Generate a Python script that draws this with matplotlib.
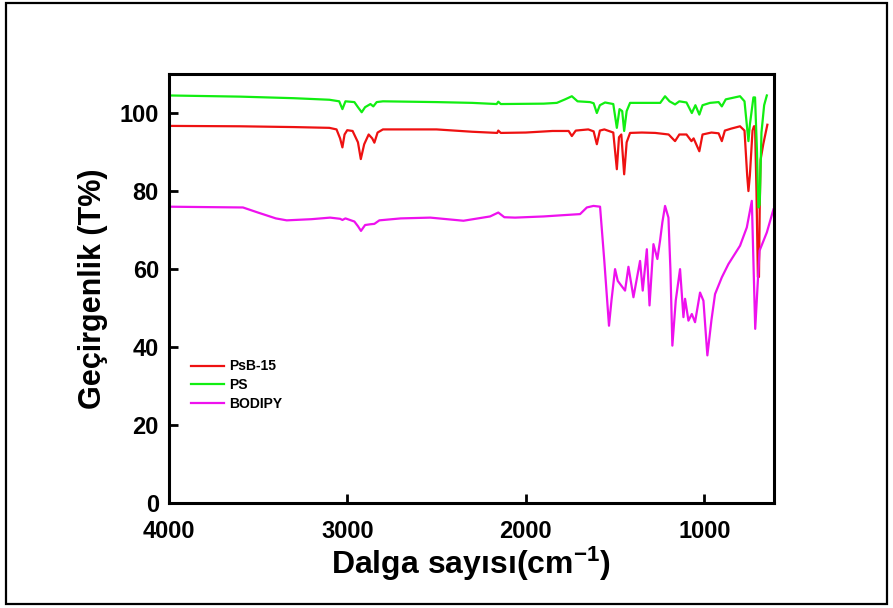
import matplotlib
matplotlib.use("Agg")
import matplotlib.pyplot as plt
from matplotlib.patches import Rectangle

plt.rcParams['font.family'] = ['Liberation Sans', 'DejaVu Sans']
plt.rcParams['font.weight'] = 'bold'
plt.rcParams['mathtext.fontset'] = 'custom'
plt.rcParams['mathtext.rm'] = 'Liberation Sans:bold'
plt.rcParams['mathtext.bf'] = 'Liberation Sans:bold'
plt.rcParams['mathtext.default'] = 'bf'

# PsB-15 (red)
wn_psb = [4000, 3600, 3300, 3100, 3060, 3040, 3027, 3015, 3000, 2970, 2940, 2924, 2905,
          2880, 2860, 2848, 2830, 2800, 2500, 2300, 2160, 2154, 2140, 2000, 1850, 1760,
          1742, 1720, 1650, 1620, 1602, 1585, 1560, 1510, 1490, 1478, 1465, 1449, 1435,
          1416, 1350, 1275, 1200, 1164, 1140, 1100, 1072, 1060, 1028, 1010, 960, 920,
          902, 885, 850, 800, 775, 760, 753, 745, 730, 722, 716, 708, 700, 694, 690,
          685, 670, 647]
t_psb = [96.7, 96.6, 96.4, 96.2, 95.8, 93.5, 91.2, 94.5, 95.6, 95.4, 92.5, 88.2, 92.0,
         94.5, 93.5, 92.4, 95.0, 95.8, 95.8, 95.2, 94.9, 95.5, 94.9, 95.0, 95.4, 95.4,
         94.1, 95.5, 95.8, 95.3, 92.0, 95.5, 95.8, 95.0, 85.6, 93.8, 94.5, 84.3, 92.5,
         94.9, 95.0, 94.9, 94.5, 92.8, 94.5, 94.5, 92.8, 93.5, 90.2, 94.5, 95.0, 94.8,
         92.8, 95.5, 96.0, 96.6, 95.5, 84.0, 80.0, 84.0, 95.5, 96.6, 96.6, 80.0, 58.0,
         58.0, 75.0, 88.0, 92.0, 97.0]

# PS (green)
wn_ps = [4000, 3600, 3300, 3100, 3045, 3027, 3010, 2960, 2940, 2919, 2900, 2870, 2854,
         2835, 2800, 2500, 2300, 2163, 2154, 2140, 1900, 1826, 1780, 1742, 1710, 1640,
         1620, 1602, 1585, 1556, 1510, 1490, 1475, 1460, 1449, 1435, 1416, 1300, 1247,
         1220, 1195, 1164, 1140, 1100, 1070, 1050, 1028, 1010, 968, 920, 902, 880, 800,
         775, 760, 753, 745, 725, 716, 705, 697, 690, 680, 665, 650]
t_ps = [104.5, 104.2, 103.8, 103.4, 103.0, 101.0, 103.0, 102.8, 101.5, 100.2, 101.5,
        102.3, 101.7, 102.8, 103.0, 102.8, 102.6, 102.3, 102.9, 102.3, 102.4, 102.6,
        103.5, 104.3, 103.0, 102.8, 102.5, 100.0, 102.0, 102.7, 102.3, 96.2, 101.0,
        100.5, 95.4, 100.5, 102.6, 102.6, 102.6, 104.3, 103.0, 102.2, 103.0, 102.7,
        100.0, 102.0, 99.6, 102.0, 102.6, 102.8, 101.7, 103.5, 104.3, 103.0, 96.0,
        92.8, 97.0, 104.0, 104.0, 90.0, 75.8, 76.5, 95.0, 102.0, 104.5]

# BODIPY (magenta)
wn_bod = [4000, 3800, 3584, 3500, 3400, 3339, 3200, 3096, 3040, 3027, 3010, 2960, 2940,
          2923, 2900, 2870, 2848, 2820, 2700, 2535, 2349, 2200, 2154, 2120, 2060, 1900,
          1800, 1696, 1658, 1621, 1584, 1560, 1534, 1520, 1500, 1485, 1472, 1444, 1425,
          1397, 1360, 1345, 1322, 1307, 1285, 1263, 1248, 1235, 1220, 1201, 1190, 1179,
          1160, 1136, 1117, 1108, 1089, 1070, 1052, 1024, 1005, 983, 960, 940, 902, 865,
          800, 762, 734, 715, 691, 650, 613]
t_bod = [76.0, 75.9, 75.8, 74.5, 73.0, 72.5, 72.8, 73.2, 72.9, 72.6, 73.0, 72.2, 71.0,
         69.8, 71.3, 71.5, 71.6, 72.5, 73.0, 73.2, 72.4, 73.5, 74.5, 73.3, 73.2, 73.5,
         73.8, 74.1, 75.8, 76.2, 76.0, 62.0, 45.5, 52.0, 60.0, 57.0, 56.2, 54.5, 60.6,
         52.8, 62.1, 54.5, 65.1, 50.7, 66.4, 62.6, 67.3, 72.0, 76.2, 73.2, 60.0, 40.4,
         52.0, 60.0, 47.7, 52.4, 46.8, 48.5, 46.4, 54.0, 51.9, 37.9, 47.0, 53.6, 57.9,
         61.3, 66.0, 70.7, 77.5, 44.7, 64.7, 69.4, 75.3]

labels = ['PsB-15', 'PS', 'BODIPY']
colors = ['#ee1111', '#11ee11', '#ee11ee']
x_ticks = [4000, 3000, 2000, 1000]
y_ticks = [0, 20, 40, 60, 80, 100]

fig = plt.figure(figsize=(8.93, 6.08), dpi=100)
ax = fig.add_axes([0.1889, 0.1722, 0.6778, 0.7061])

ax.plot(wn_psb, t_psb, color=colors[0], lw=1.6, label=labels[0])
ax.plot(wn_ps, t_ps, color=colors[1], lw=1.6, label=labels[1])
ax.plot(wn_bod, t_bod, color=colors[2], lw=1.6, label=labels[2])

ax.set_xlim(4000, 610)
ax.set_ylim(0, 110)
ax.set_xticks(x_ticks)
ax.set_yticks(y_ticks)
ax.tick_params(direction='in', length=6.5, width=2, labelsize=17)
ax.tick_params(axis='x', pad=12)
ax.tick_params(axis='y', pad=7)
for lab in ax.get_xticklabels() + ax.get_yticklabels():
    lab.set_fontweight('bold')
for s in ax.spines.values():
    s.set_linewidth(2.2)

ax.set_xlabel('Dalga sayısı(cm$^{-1}$)', fontsize=23, fontweight='bold', labelpad=1)
ax.set_ylabel('Geçirgenlik (T%)', fontsize=22, fontweight='bold', labelpad=8)

leg = ax.legend(loc='upper left', bbox_to_anchor=(0.037, 0.335), frameon=False,
                prop={'size': 10, 'weight': 'bold'}, handlelength=2.4,
                handletextpad=0.35, labelspacing=0.35, borderpad=0, borderaxespad=0)

fig.patches.append(Rectangle((0.007, 0.006), 0.986, 0.989, transform=fig.transFigure,
                             fill=False, edgecolor='black', linewidth=1.6))

fig.savefig('out.png', dpi=100)
